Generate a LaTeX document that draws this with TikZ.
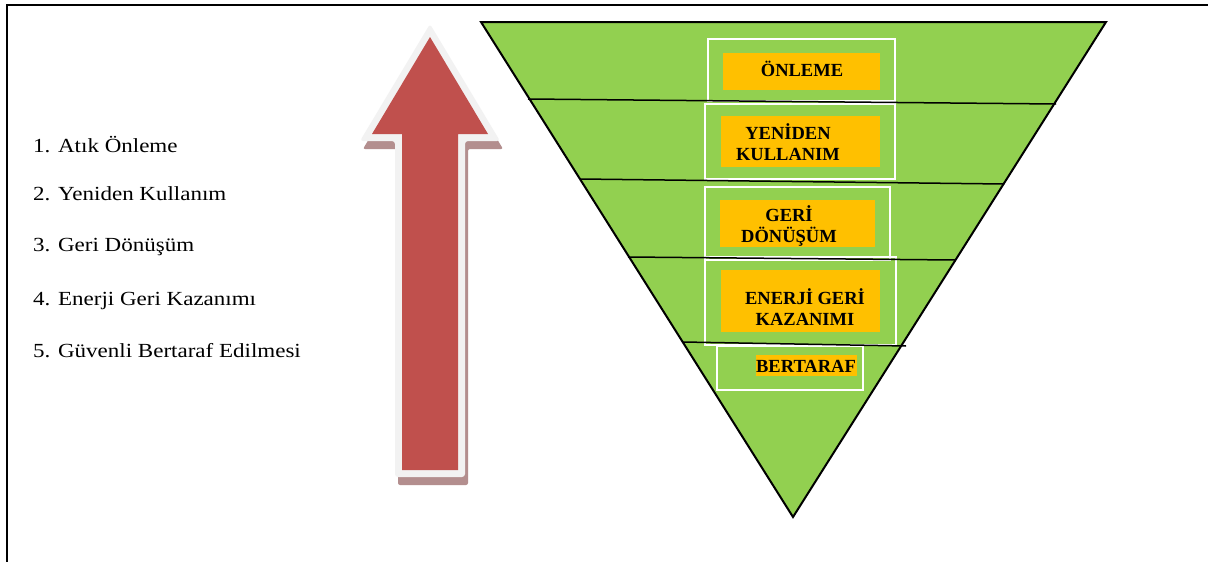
\documentclass[tikz,border=0pt]{standalone}
\usepackage{fontspec}
\setmainfont{Liberation Serif}
\newfontfamily\listfont[FakeStretch=1.15]{Liberation Serif}
\usetikzlibrary{positioning}

\definecolor{PyrGreen}{HTML}{92D050}
\definecolor{LabelOrange}{HTML}{FFC000}
\definecolor{ArrowRed}{HTML}{C0504D}
\definecolor{ArrowRim}{HTML}{F2F2F2}
\definecolor{ArrowShadow}{HTML}{B38E8E}

\begin{document}
\begin{tikzpicture}[x=1pt,y=-1pt]

	\tikzset{ListStyle/.style = {anchor=base west, inner sep=0pt,
			font=\listfont\fontsize{20}{24}\selectfont}}
	\tikzset{LabelStyle/.style = {align=center, inner sep=0pt, anchor=base,
			font=\bfseries\fontsize{18.5}{21}\selectfont}}
	\tikzset{FrameStyle/.style = {draw=white, line width=2pt}}
	\tikzset{BandStyle/.style = {fill=LabelOrange}}
	\tikzset{LineStyle/.style = {line width=1.5pt}}

	\useasboundingbox (0,0) rectangle (1208,562);
	\fill[white] (0,0) rectangle (1208,562);

	% frame
	\draw[line width=2pt] (7,562) -- (7,5) -- (1208,5);

	% list
	\node[ListStyle] (l1) at (33,152) {1. Atık Önleme};
	\node[ListStyle] (l2) at (33,200) {2. Yeniden Kullanım};
	\node[ListStyle] (l3) at (33,251) {3. Geri Dönüşüm};
	\node[ListStyle] (l4) at (33,305) {4. Enerji Geri Kazanımı};
	\node[ListStyle] (l5) at (33,357) {5. Güvenli Bertaraf Edilmesi};

	% arrow
	\fill[ArrowShadow, rounded corners=2pt, shift={(3,8)}]
		(430,24) -- (500,141) -- (465,141) -- (465,477) -- (395,477) -- (395,141) -- (360,141) -- cycle;
	\fill[ArrowRim, rounded corners=3pt]
		(430,24) -- (500,141) -- (465,141) -- (465,477) -- (395,477) -- (395,141) -- (360,141) -- cycle;
	\fill[ArrowRed]
		(430,37) -- (488,134) -- (458,134) -- (458,470) -- (402,470) -- (402,134) -- (372,134) -- cycle;

	% pyramid
	\draw[fill=PyrGreen, line width=2pt, line join=miter] (481,22) -- (1106,22) -- (793,517) -- cycle;

	% boxes
	\draw[FrameStyle] (708,39) rectangle (895,101);
	\draw[FrameStyle] (705,104) rectangle (895,179);
	\draw[FrameStyle] (705,187) rectangle (890,260);
	\draw[FrameStyle] (705,257) rectangle (896,345);
	\draw[FrameStyle] (717,346) rectangle (863,390);

	\fill[BandStyle] (723,53) rectangle (880,90);
	\fill[BandStyle] (721,116) rectangle (880,167);
	\fill[BandStyle] (720,200) rectangle (875,247);
	\fill[BandStyle] (721,270) rectangle (880,332);
	\fill[BandStyle] (756,355) rectangle (857,376);

	% dividers
	\draw[LineStyle] (528,99) -- (1056,104);
	\draw[LineStyle] (580,179) -- (1004,184);
	\draw[LineStyle] (628,257) -- (955,260);
	\draw[LineStyle] (683,342) -- (906,346);

	% labels
	\node[LabelStyle] (onleme) at (802,76) {ÖNLEME};
	\node[LabelStyle] (yeniden) at (788,160) {YENİDEN\\KULLANIM};
	\node[LabelStyle] (geri) at (789,242) {GERİ\\DÖNÜŞÜM};
	\node[LabelStyle] (enerji) at (805,325) {ENERJİ GERİ\\KAZANIMI};
	\node[LabelStyle] (bertaraf) at (806,372) {BERTARAF};

\end{tikzpicture}
\end{document}
